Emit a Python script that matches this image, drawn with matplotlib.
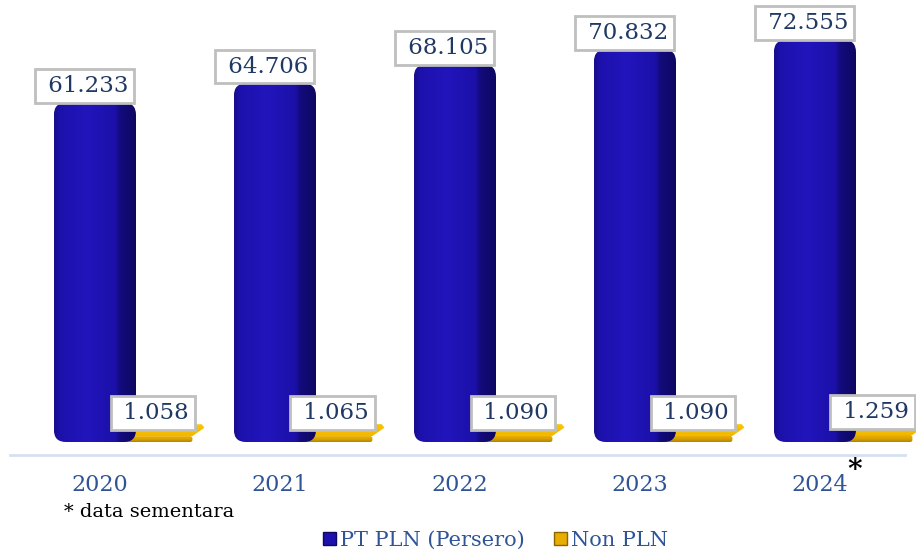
import numpy as np
import matplotlib
matplotlib.use('Agg')
import matplotlib.pyplot as plt
from matplotlib.patches import FancyBboxPatch, Patch, Polygon
from matplotlib.colors import LinearSegmentedColormap

years = ['2020', '2021', '2022', '2023', '2024']
pln = [61.233, 64.706, 68.105, 70.832, 72.555]
non_pln = [1.058, 1.065, 1.090, 1.090, 1.259]
series_names = ['PT PLN (Persero)', 'Non PLN']

plt.rcParams['font.family'] = ['DejaVu Serif']

W, H = 916, 555
PX_Y = 5.54      # pixels per data unit (vertical)
PX_X = 180.0     # pixels per category step
ASPECT = PX_X / PX_Y

blue_cmap = LinearSegmentedColormap.from_list(
    'blue3d', [(0, '#180d8c'), (0.08, '#1d11ad'), (0.4, '#2215bc'),
               (0.74, '#1b10a8'), (0.8, '#130b7c'), (1, '#0d0760')])
gold_front = LinearSegmentedColormap.from_list(
    'goldf', [(0, '#b58200'), (0.5, '#dba300'), (1, '#eab000')])
gold_top = LinearSegmentedColormap.from_list(
    'goldt', [(0, '#f2b800'), (0.85, '#f8c400'), (1, '#ffd23a')])


def gradient_fill(ax, patch, extent, cmap, vertical, z):
    grad = np.linspace(0, 1, 256)
    img = grad[:, None] if vertical else grad[None, :]
    im = ax.imshow(img, cmap=cmap, extent=extent, aspect='auto',
                   origin='lower', zorder=z, interpolation='bilinear')
    im.set_clip_path(patch)


def rounded_bar(ax, xc, w, h, cmap, rounding, z=3):
    x0 = xc - w / 2
    patch = FancyBboxPatch((x0, 0), w, h,
                           boxstyle='round,pad=0,rounding_size={}'.format(rounding),
                           mutation_aspect=ASPECT, fc='none', ec='none', zorder=z)
    ax.add_patch(patch)
    gradient_fill(ax, patch, [x0, x0 + w, 0, h], cmap, False, z)


def slab(ax, xc, w, h, z=2):
    # thin bar drawn with a sheared top face for the 3D look
    dx, dy = 12 / PX_X, 12 / PX_Y
    x0, x1 = xc - w / 2, xc + w / 2
    front = FancyBboxPatch((x0, 0), w - dx, h,
                           boxstyle='round,pad=0,rounding_size=0.012',
                           mutation_aspect=ASPECT, fc='none', ec='none', zorder=z)
    ax.add_patch(front)
    gradient_fill(ax, front, [x0, x1 - dx, 0, h], gold_front, True, z)
    top = Polygon([(x0 + 0.01, h), (x1 - dx, h), (x1, h + dy * 0.7), (x1 - 0.015, h + dy),
                   (x0 + dx + 0.01, h + dy)], closed=True, fc='none', ec='none', zorder=z)
    ax.add_patch(top)
    gradient_fill(ax, top, [x0, x1, h, h + dy], gold_top, True, z)


fig = plt.figure(figsize=(W / 100, H / 100), dpi=100)
ax = fig.add_axes([0, 1 - 455 / H, 1, 455 / H])

x = np.arange(len(years))
blue_off, blue_w = -0.028, 0.456
gold_off, gold_w = 0.35, 0.46

for i in range(len(years)):
    slab(ax, x[i] + gold_off, gold_w, non_pln[i])
    rounded_bar(ax, x[i] + blue_off, blue_w, pln[i], blue_cmap, 0.067)

box = dict(boxstyle='square,pad=0.25', fc='white', ec='#bfbfbf', lw=2)
for i in range(len(years)):
    ax.text(x[i] + 0.156, pln[i] + 1.05, ' {:.3f}'.format(pln[i]), ha='right', va='bottom',
            fontsize=16.5, color='#1f3864', bbox=box, zorder=5)
    ax.text(x[i] + 0.494, non_pln[i] + 2.15, ' {:.3f}'.format(non_pln[i]), ha='right', va='bottom',
            fontsize=16.5, color='#1f3864', bbox=box, zorder=6)

ax.set_xlim(-100 / PX_X, (W - 100) / PX_X)
ax.set_ylim(-13 / PX_Y, 442 / PX_Y)
ax.set_xticks(x)
ax.set_xticklabels(years, fontsize=16, color='#2f5597')
ax.tick_params(axis='x', length=0, pad=14)
ax.set_yticks([])
for s in ['top', 'left', 'right']:
    ax.spines[s].set_visible(False)
ax.spines['bottom'].set_color('#d6e0f0')
ax.spines['bottom'].set_linewidth(2)
ax.spines['bottom'].set_bounds(-90 / PX_X, 805 / PX_X)
ax.patch.set_alpha(0)

fig.text(855 / W, 1 - 471 / H, '*', fontsize=20, fontweight='bold', ha='center', va='center')
fig.text(64 / W, 1 - 512 / H, '* data sementara', fontsize=14, ha='left', va='center')

handles = [Patch(fc='#1d11ad', ec='#0d0760'), Patch(fc='#e8ad00', ec='#8a6400')]
fig.legend(handles, series_names, loc='center', bbox_to_anchor=(0.541, 1 - 540 / H), ncol=2,
           frameon=False, handlelength=0.6, handleheight=0.6, handletextpad=0.2,
           columnspacing=1.4, fontsize=15, labelcolor='#2f5597')

fig.savefig('out.png', dpi=100)
